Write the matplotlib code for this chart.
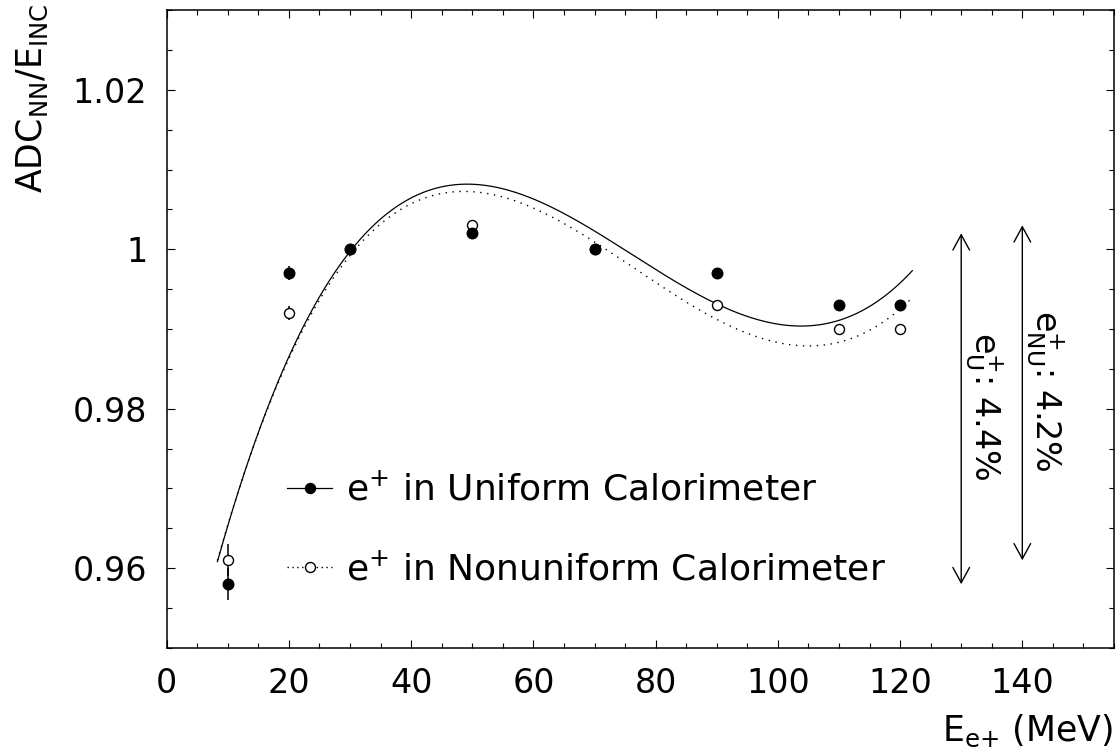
import numpy as np
import matplotlib
matplotlib.use("Agg")
import matplotlib.pyplot as plt
from matplotlib.lines import Line2D

plt.rcParams['font.family'] = ['DejaVu Sans']
plt.rcParams['mathtext.fontset'] = 'custom'
plt.rcParams['mathtext.rm'] = 'DejaVu Sans'
plt.rcParams['mathtext.it'] = 'DejaVu Sans'

# ---- data ----
energy = [10, 20, 30, 50, 70, 90, 110, 120]
uniform = [0.958, 0.997, 1.000, 1.002, 1.000, 0.997, 0.993, 0.993]
uniform_err = [0.002, 0.0009, 0.0004, 0.0004, 0.0004, 0.0004, 0.0004, 0.0004]
nonuniform = [0.961, 0.992, 1.000, 1.003, 1.000, 0.993, 0.990, 0.990]
nonuniform_err = [0.002, 0.0009, 0.0004, 0.0004, 0.0004, 0.0004, 0.0004, 0.0004]

# polynomial fit curves, in u = (E - 65) / 60, highest power first
fit_center, fit_scale = 65.0, 60.0
fit_range = [8.3, 122.0]
fit_uniform = [-0.00220971, 0.0488151, -0.0266153, -0.0244256, 1.00448]
fit_nonuniform = [-0.00208111, 0.0482531, -0.0271196, -0.0257811, 1.00323]

labels = ['e$^{+}$ in Uniform Calorimeter', 'e$^{+}$ in Nonuniform Calorimeter']
spread_x = [130, 140]
spread_names = ['U', 'NU']

# ---- figure ----
fig = plt.figure(figsize=(11.18, 7.56), dpi=100)
ax = fig.add_axes([0.1491, 0.14286, 0.99642 - 0.1491, 0.98677 - 0.14286])
ax.set_xlim(0, 155)
ax.set_ylim(0.95, 1.03)

xx = np.linspace(fit_range[0], fit_range[1], 400)
uu = (xx - fit_center) / fit_scale
ax.plot(xx, np.polyval(fit_uniform, uu), color='black', lw=0.9, ls='-', zorder=2)
ax.plot(xx, np.polyval(fit_nonuniform, uu), color='black', lw=1.0, ls=(0, (1, 4)), zorder=2)

ax.errorbar(energy, nonuniform, yerr=nonuniform_err, fmt='o', ms=7.2, mfc='white',
            mec='black', mew=1.0, ecolor='black', elinewidth=1.1, capsize=0, zorder=3)
ax.errorbar(energy, uniform, yerr=uniform_err, fmt='o', ms=7.6, mfc='black',
            mec='black', ecolor='black', elinewidth=1.1, capsize=0, zorder=4)

# legend
handles = [Line2D([], [], color='black', lw=0.9, ls='-', marker='o', ms=7.2,
                  mfc='black', mec='black'),
           Line2D([], [], color='black', lw=1.0, ls=(0, (1, 2.5)), marker='o', ms=7.2,
                  mfc='white', mec='black', mew=1.0)]
leg = ax.legend(handles, labels, loc='upper left', bbox_to_anchor=(0.127, 0.275),
                frameon=False, fontsize=26, handlelength=1.25, handletextpad=0.38,
                labelspacing=1.25, borderpad=0, borderaxespad=0, numpoints=1)

# spread arrows (min to max of each series)
for xpos, series, name in zip(spread_x, [uniform, nonuniform], spread_names):
    lo, hi = min(series), max(series)
    ax.annotate('', xy=(xpos, hi), xytext=(xpos, lo),
                arrowprops=dict(arrowstyle='<->,head_length=0.55,head_width=0.3',
                                color='black', lw=1.0, shrinkA=0, shrinkB=0,
                                mutation_scale=20))
    ax.text(xpos + 3.5, (lo + hi) / 2 + 0.0003,
            'e$_{\\mathrm{%s}}^{+}$: %.1f%%' % (name, (hi - lo) * 100),
            rotation=-90, ha='center', va='center', fontsize=24)

# axes styling
for s in ax.spines.values():
    s.set_linewidth(1.1)
ax.set_xticks(np.arange(0, 141, 20))
ax.set_xticks(np.arange(0, 156, 5), minor=True)
ax.set_yticks([0.96, 0.98, 1.0, 1.02])
ax.set_yticklabels(['0.96', '0.98', '1', '1.02'])
ax.set_yticks(np.arange(0.95, 1.0301, 0.005), minor=True)
ax.tick_params(which='both', direction='in', top=True, right=True, width=0.8, labelsize=24)
ax.tick_params(which='major', length=6)
ax.tick_params(which='minor', length=3.5)
ax.tick_params(axis='x', pad=14)
ax.tick_params(axis='y', pad=14)

fig.text(32 / 1118, 1 - 3 / 756, 'ADC$_{\\mathrm{NN}}$/E$_{\\mathrm{INC}}$', rotation=90,
         ha='center', va='top', fontsize=25)
fig.text(1113 / 1118, 1 - 731 / 756, 'E$_{\\mathrm{e{+}}}$ (MeV)', ha='right', va='center',
         fontsize=25)

fig.savefig("out.png", dpi=100)
